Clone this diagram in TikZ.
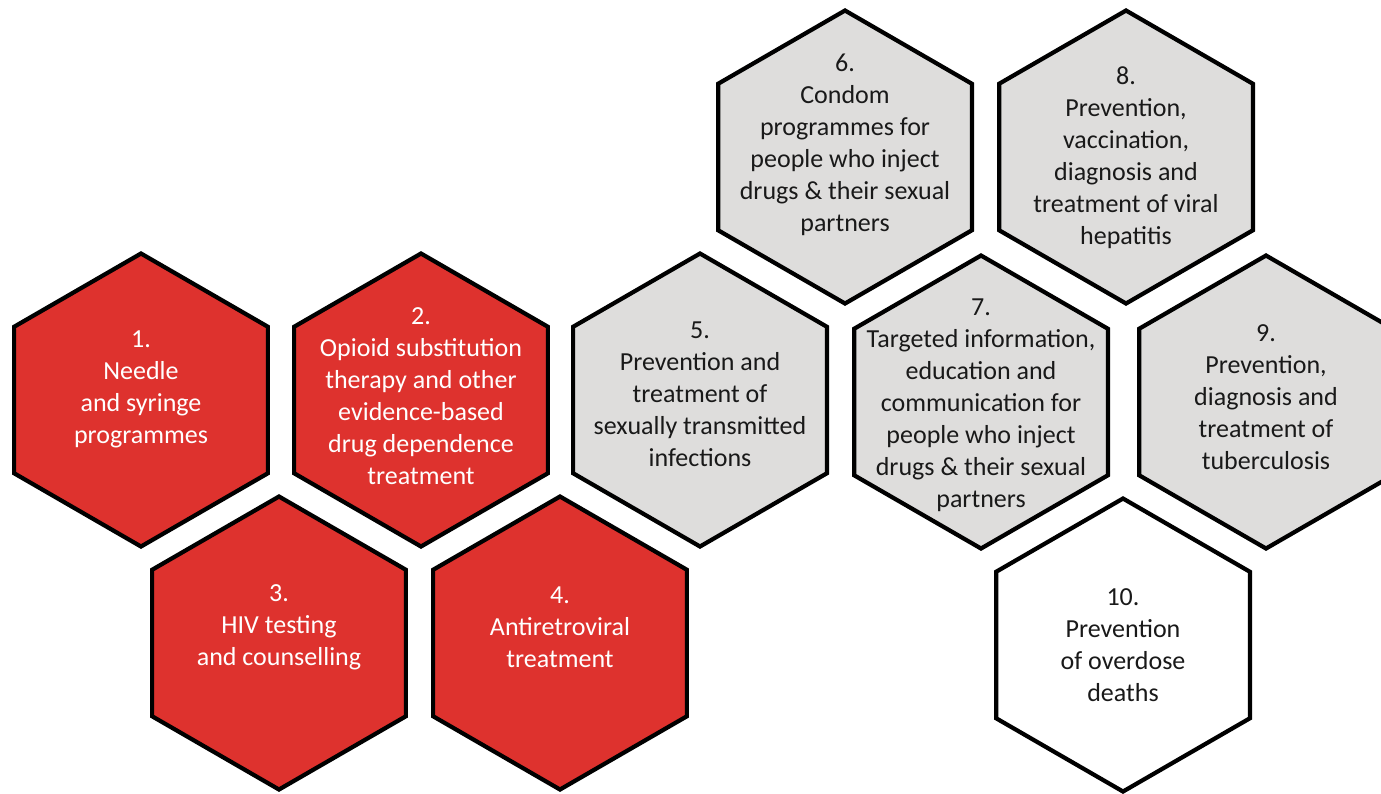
\documentclass[tikz,border=0pt]{standalone}
\usepackage{fontspec}
\setmainfont{Carlito}
\usepackage{tikz}
\usetikzlibrary{shapes.geometric}
\definecolor{hexred}{RGB}{222,50,46}
\definecolor{hexgrey}{RGB}{222,221,220}
\definecolor{hexink}{RGB}{25,25,25}
\tikzstyle{Hexagon}=[regular polygon, regular polygon sides=6, shape border rotate=30, minimum size=2.93cm, inner sep=0pt, outer sep=0pt, line width=1.2pt, draw=black, line join=miter]
\tikzstyle{Core}=[style=Hexagon, fill=hexred]
\tikzstyle{Related}=[style=Hexagon, fill=hexgrey]
\tikzstyle{Overdose}=[style=Hexagon, fill=white]
\tikzstyle{Label}=[align=center, inner sep=0pt, font=\fontsize{7.4}{9.1}\selectfont]
\tikzstyle{CoreLabel}=[style=Label, text=white]
\tikzstyle{RelatedLabel}=[style=Label, text=hexink]

\begin{document}
\begin{tikzpicture}
	\useasboundingbox (0,0) rectangle (13.81,-7.93);
	% core interventions
	\node [style=Core] (needle) at (1.41, -4.00) {};
	\node [style=Core] (opioid) at (4.21, -4.00) {};
	\node [style=Core] (testing) at (2.79, -6.43) {};
	\node [style=Core] (arv) at (5.60, -6.43) {};
	% related interventions
	\node [style=Related] (sti) at (7.00, -4.00) {};
	\node [style=Related] (condom) at (8.45, -1.57) {};
	\node [style=Related] (iec) at (9.81, -4.02) {};
	\node [style=Related] (hepatitis) at (11.26, -1.57) {};
	\node [style=Related] (tb) at (12.66, -4.02) {};
	\node [style=Overdose] (overdose) at (11.23, -6.45) {};
	% labels
	\node [style=CoreLabel] (needle text) at (1.41, -3.89) {1.\\Needle\\and syringe\\programmes};
	\node [style=CoreLabel] (opioid text) at (4.21, -3.96) {2.\\Opioid substitution\\therapy and other\\evidence-based\\drug dependence\\treatment};
	\node [style=CoreLabel] (testing text) at (2.79, -6.27) {3.\\HIV testing\\and counselling};
	\node [style=CoreLabel] (arv text) at (5.60, -6.27) {4.\\Antiretroviral\\treatment};
	\node [style=RelatedLabel] (sti text) at (7.00, -3.94) {5.\\Prevention and\\treatment of\\sexually transmitted\\infections};
	\node [style=RelatedLabel] (condom text) at (8.45, -1.45) {6.\\Condom\\programmes for\\people who inject\\drugs \& their sexual\\partners};
	\node [style=RelatedLabel] (iec text) at (9.81, -4.05) {7.\\Targeted information,\\education and\\communication for\\people who inject\\drugs \& their sexual\\partners};
	\node [style=RelatedLabel] (hepatitis text) at (11.26, -1.58) {8.\\Prevention,\\vaccination,\\diagnosis and\\treatment of viral\\hepatitis};
	\node [style=RelatedLabel] (tb text) at (12.66, -3.97) {9.\\Prevention,\\diagnosis and\\treatment of\\tuberculosis};
	\node [style=RelatedLabel] (overdose text) at (11.23, -6.45) {10.\\Prevention\\of overdose\\deaths};
\end{tikzpicture}
\end{document}
